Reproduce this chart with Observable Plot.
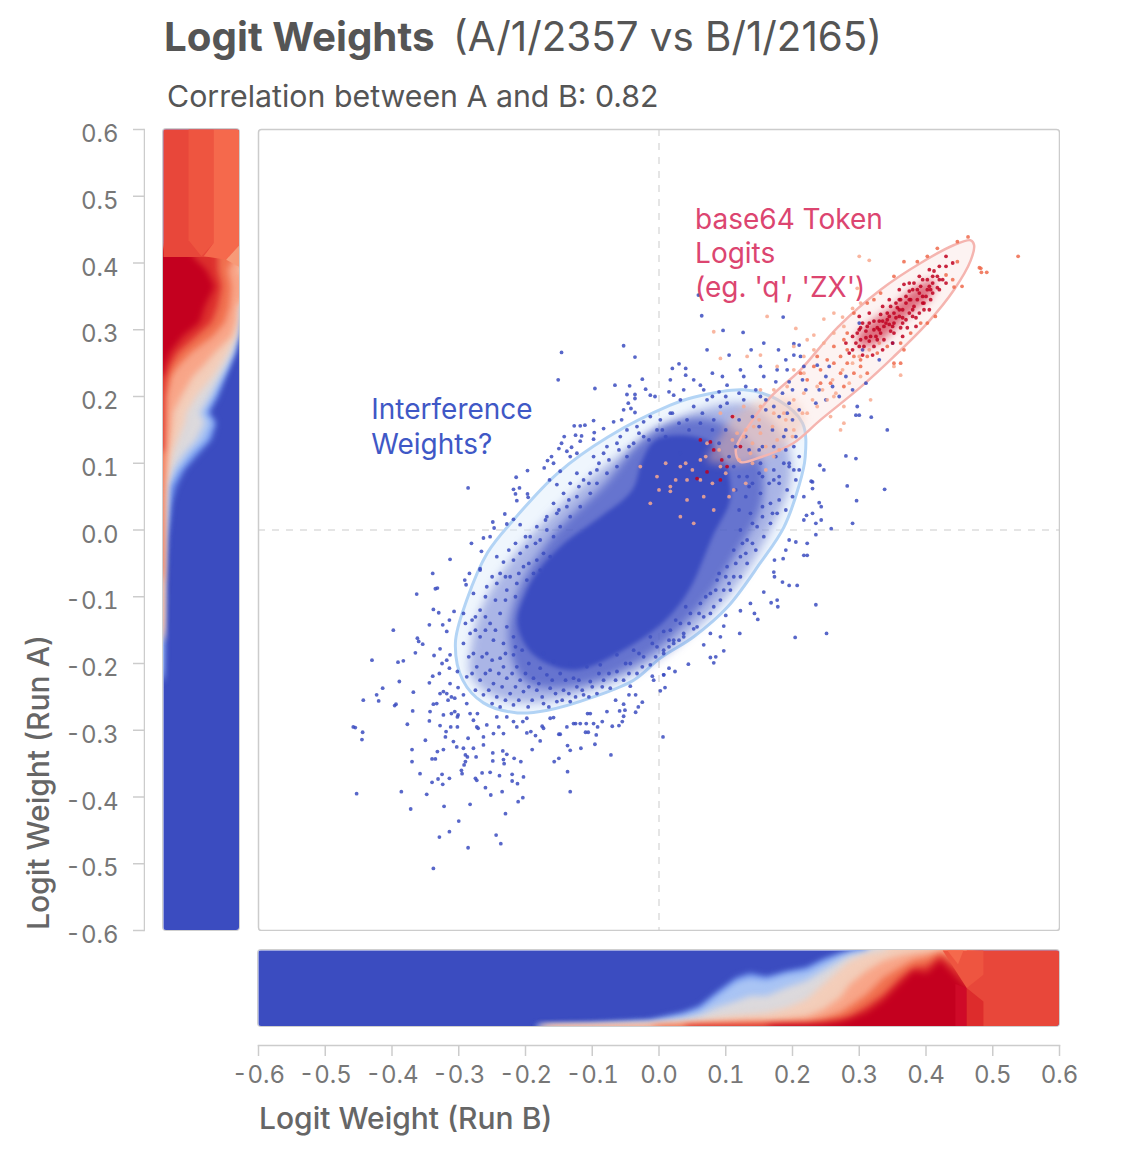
<!DOCTYPE html>
<html><head><meta charset="utf-8">
<script src="https://cdn.jsdelivr.net/npm/d3@7"></script>
<script src="https://cdn.jsdelivr.net/npm/@observablehq/plot@0.6"></script>
<style>
html,body{margin:0;background:#fff;font-family:Inter,sans-serif}
#page{position:relative;width:1124px;height:1154px;overflow:hidden}
.abs{position:absolute;white-space:nowrap}
.abs svg{display:block;max-width:none;overflow:hidden}
</style></head><body><div id="page"></div>
<script>
const ticks=[-.6,-.5,-.4,-.3,-.2,-.1,0,.1,.2,.3,.4,.5,.6];
const bandColors=["#c4001f","#dc2f2d","#f0704f","#f8a588","#f3cdb9","#dcd9dc","#a9c4f4","#6f94ee"];
const stripBlue="#3b4cc0";
// left strip: Run A logit weight, then cumulative share at each colour boundary
const leftV=[.42,.409,.389,.364,.335,.31,.29,.265,.245,.23,.2,.175,.16,.135,.115,.09,.065,.04,-.015,-.08,-.169,-.229];
const leftB=[[.39,.72,.95,1,1,1,1,1],[.39,.72,.95,1,1,1,1,1],[.57,.72,.855,.985,1,1,1,1],[.68,.77,.9,1,1,1,1,1],[.55,.72,.877,.974,.99,.995,1,1],[.48,.636,.81,.956,.982,.99,.995,1],[.26,.44,.66,.9,.956,.974,.982,.987],[.09,.2,.37,.68,.855,.912,.93,.943],[.02,.09,.2,.526,.746,.825,.86,.877],[0,.044,.11,.395,.658,.754,.798,.825],[0,.013,.044,.24,.44,.614,.68,.724],[0,.009,.035,.13,.307,.48,.56,.605],[0,.009,.03,.123,.285,.548,.658,.7],[0,.005,.022,.096,.197,.44,.57,.636],[0,0,.018,.066,.13,.285,.395,.48],[0,0,.013,.044,.079,.132,.219,.285],[0,0,.009,.022,.035,.053,.088,.175],[0,0,.004,.013,.022,.044,.079,.11],[0,0,.004,.009,.013,.018,.035,.053],[0,0,0,.004,.006,.008,.012,.02],[0,0,0,0,0,0,.004,.013],[0,0,0,0,0,0,0,0]];
const leftBlocks=[
 {fill:"#e8473a",pts:[[0,.6],[1,.6],[1,.409],[0,.409]]},
 {fill:"#ee5540",pts:[[.33,.6],[.66,.6],[.66,.43],[.5,.41],[.33,.434]]},
 {fill:"#f5694c",pts:[[.66,.6],[1,.6],[1,.427],[.83,.405],[.53,.41],[.66,.43]]},
 {fill:"#f79a78",pts:[[.825,.405],[1,.427],[1,.394]]}];
// bottom strip: Run B logit weight, then cumulative share at each colour boundary
const bottomV=[-.183,-.1,-.013,.037,.062,.087,.117,.137,.162,.192,.222,.247,.272,.287,.312,.337,.362,.382,.402,.422,.442,.461,.47];
const bottomB=[[0,0,0,0,0,0,0,.005],[0,0,0,.003,.005,.01,.015,.03],[0,0,0,.013,.022,.035,.057,.075],[0,0,.013,.031,.053,.088,.145,.176],[0,.009,.022,.04,.075,.145,.22,.264],[0,.013,.026,.048,.119,.242,.396,.441],[0,.018,.031,.066,.145,.33,.586,.639],[0,.018,.035,.075,.154,.396,.639,.696],[0,.022,.035,.075,.176,.396,.604,.648],[.009,.026,.044,.101,.24,.507,.683,.718],[.013,.031,.057,.132,.352,.595,.727,.771],[.022,.053,.101,.22,.551,.727,.837,.881],[.053,.088,.176,.374,.75,.859,.93,.956],[.088,.132,.264,.551,.859,.925,.974,.982],[.176,.264,.419,.727,.947,.974,.991,1],[.331,.419,.639,.859,.987,1,1,1],[.551,.639,.771,.925,1,1,1,1],[.72,.771,.868,.956,1,1,1,1],[.692,.79,.903,.978,1,1,1,1],[.855,.925,.969,.991,1,1,1,1],[.68,.8,.93,1,1,1,1,1],[.507,.7,.9,1,1,1,1,1],[.507,.7,.9,1,1,1,1,1]];
const bottomBlocks=[
 {fill:"#e8473a",pts:[[.461,1],[.6,1],[.6,0],[.461,0]]},
 {fill:"#ee5540",pts:[[.425,1],[.461,.507],[.486,.68],[.486,1]]},
 {fill:"#f5694c",pts:[[.432,1],[.448,.82],[.456,1]]},
 {fill:"#cf0a28",pts:[[.444,.56],[.461,.507],[.461,0],[.444,0]]},
 {fill:"#dd2c2c",pts:[[.461,.507],[.486,.33],[.486,0],[.461,0]]}];
// outlines
const blueEllipse=[[.002,-.192],[.052,-.16],[.103,-.115],[.152,-.049],[.187,.004],[.209,.064],[.219,.109],[.215,.16],[.178,.195],[.127,.21],[.052,.199],[.017,.187],[-.077,.139],[-.152,.085],[-.218,.015],[-.257,-.034],[-.288,-.105],[-.305,-.169],[-.294,-.225],[-.263,-.259],[-.212,-.274],[-.167,-.27],[-.098,-.25],[-.038,-.225]];
const redEllipse=[[.472,.427],[.467,.434],[.442,.427],[.392,.4],[.332,.36],[.268,.304],[.212,.24],[.167,.199],[.133,.154],[.115,.12],[.122,.102],[.152,.109],[.201,.13],[.242,.165],[.302,.214],[.351,.259],[.402,.31],[.442,.36],[.467,.404]];
const densityOuter=[[-.282,-.18],[-.267,-.12],[-.222,-.045],[-.163,.022],[-.088,.09],[-.013,.142],[.062,.18],[.137,.187],[.189,.135],[.197,.075],[.167,0],[.122,-.075],[.062,-.142],[-.013,-.202],[-.103,-.24],[-.192,-.259],[-.252,-.247],[-.282,-.217]];
const densityMiddle=[[-.225,-.165],[-.21,-.09],[-.158,-.007],[-.083,.067],[-.008,.15],[.077,.165],[.145,.12],[.155,.045],[.11,-.045],[.057,-.12],[-.03,-.197],[-.133,-.235],[-.2,-.227]];
const densityCore=[[-.005,.135],[.052,.14],[.09,.12],[.107,.05],[.08,-.01],[.045,-.09],[.01,-.135],[-.05,-.178],[-.128,-.21],[-.188,-.187],[-.212,-.14],[-.2,-.095],[-.18,-.06],[-.14,-.018],[-.09,.018],[-.04,.06],[-.025,.105]];
const overlapPatch=[[.092,.14],[.112,.17],[.152,.195],[.202,.195],[.217,.16],[.177,.12],[.122,.1],[.072,.105]];
const redBlob=[[.297,.29],[.322,.315],[.352,.335],[.382,.362],[.412,.375],[.407,.35],[.377,.325],[.352,.3],[.327,.28],[.302,.275]];
// individual points, as x,y pairs
const blueLower=[-.338,-.119,-.33,-.124,-.307,-.122,-.344,-.142,-.324,-.142,-.314,-.135,-.398,-.15,-.318,-.152,-.362,-.162,-.36,-.167,-.354,-.171,-.365,-.184,-.43,-.195,-.391,-.198,-.383,-.196,-.337,-.188,-.328,-.178,-.313,-.187,-.318,-.195,-.325,-.2,-.329,-.215,-.314,-.207,-.302,-.212,-.339,-.219,-.389,-.227,-.344,-.229,-.313,-.23,-.414,-.237,-.368,-.243,-.423,-.247,-.443,-.255,-.42,-.256,-.394,-.261,-.396,-.263,-.323,-.242,-.318,-.245,-.328,-.245,-.311,-.25,-.306,-.252,-.316,-.255,-.301,-.236,-.369,-.271,-.333,-.26,-.338,-.261,-.288,-.26,-.293,-.247,-.343,-.272,-.344,-.286,-.323,-.277,-.311,-.275,-.306,-.272,-.301,-.277,-.283,-.275,-.272,-.275,-.458,-.295,-.455,-.296,-.444,-.303,-.445,-.314,-.377,-.291,-.328,-.293,-.312,-.295,-.302,-.295,-.319,-.302,-.32,-.31,-.35,-.315,-.308,-.317,-.286,-.312,-.303,-.325,-.293,-.327,-.278,-.327,-.263,-.322,-.37,-.329,-.332,-.332,-.323,-.329,-.29,-.337,-.287,-.34,-.274,-.34,-.249,-.334,-.234,-.331,-.228,-.336,-.34,-.343,-.335,-.343,-.37,-.347,-.29,-.347,-.292,-.352,-.249,-.346,-.233,-.344,-.217,-.342,-.207,-.347,-.232,-.35,-.358,-.365,-.296,-.36,-.295,-.365,-.265,-.364,-.253,-.363,-.239,-.368,-.22,-.366,-.203,-.37,-.325,-.366,-.331,-.373,-.34,-.378,-.324,-.381,-.314,-.372,-.275,-.372,-.273,-.375,-.22,-.376,-.212,-.38,-.26,-.386,-.453,-.395,-.386,-.392,-.348,-.396,-.252,-.397,-.235,-.392,-.204,-.401,-.211,-.407,-.283,-.411,-.322,-.414,-.372,-.418,-.23,-.425,-.3,-.436,-.314,-.452,-.329,-.46,-.244,-.457,-.237,-.47,-.286,-.476,-.338,-.507];
const blueUnder=[-.133,-.392,-.137,-.362,-.157,-.347,-.15,-.342,-.072,-.337,-.133,-.33,-.137,-.323,-.117,-.327,-.096,-.321,-.094,-.307,-.11,-.303,-.106,-.303,.006,-.31,-.19,-.329,-.178,-.316,-.185,-.308,-.192,-.302,-.198,-.304,-.175,-.294,-.15,-.306,-.148,-.306,-.173,-.297,-.158,-.281,-.163,-.282,-.125,-.29,-.118,-.29,-.109,-.29,-.098,-.29,-.092,-.295,-.085,-.287,-.07,-.294,-.06,-.293,-.055,-.287,-.053,-.279,-.051,-.27,-.035,-.273,-.031,-.265,-.025,-.258,-.053,-.261,-.045,-.247,-.035,-.247,-.043,-.234,-.065,-.255,.002,-.241,.009,-.236,-.01,-.219,.015,-.207,.007,-.217,-.008,-.225,-.107,-.275,-.103,-.275,-.078,-.272,-.059,-.271,-.128,-.29,-.138,-.295,-.198,-.282,-.213,-.295,-.204,-.287,-.233,-.305,-.248,-.305,-.263,-.31,-.273,-.295,-.271,-.297,-.258,-.292,-.24,-.295,-.278,-.285,-.302,-.28,-.243,-.28,-.228,-.28,-.218,-.287];
const blueUpper=[-.146,.266,-.053,.276,-.036,.259,-.151,.225,-.096,.212,-.066,.217,-.044,.216,-.025,.226,-.02,.211,-.048,.203,-.036,.203,-.036,.197,-.013,.202,-.006,.2,-.046,.19,-.053,.18,-.042,.182,-.036,.176,-.098,.164,-.111,.157,-.127,.156,-.118,.156,-.083,.152,-.068,.162,-.056,.165,-.097,.146,-.125,.142,-.116,.141,-.142,.14,-.098,.136,-.118,.133,-.146,.13,-.131,.124,-.15,.122,-.138,.118,-.123,.115,-.161,.11,-.167,.104,-.158,.1,-.172,.093,-.133,.11,-.148,.088,-.197,.089,-.214,.079,-.164,.075,-.153,.068,-.218,.061,-.209,.063,-.286,.063,-.215,.054,-.197,.054,-.196,.049,-.213,.044,-.231,.024,-.249,.012,-.218,.016,-.228,.009,-.208,.008,-.247,.003,-.263,-.012,-.253,-.01,-.281,-.02,-.266,-.032,-.313,-.044,-.339,-.065,-.284,-.065,-.335,-.088,-.332,-.087,-.363,-.096,-.291,-.075,-.289,-.082,-.268,-.058];
const blueRingLow=[-.293,-.125,-.28,-.135,-.268,-.12,-.253,-.14,-.238,-.125,-.228,-.145,-.283,-.155,-.268,-.16,-.248,-.165,-.233,-.17,-.218,-.16,-.293,-.17,-.278,-.185,-.258,-.185,-.238,-.192,-.218,-.187,-.205,-.18,-.273,-.205,-.253,-.21,-.233,-.205,-.213,-.205,-.195,-.2,-.178,-.207,-.288,-.22,-.268,-.225,-.248,-.23,-.228,-.222,-.208,-.225,-.188,-.222,-.168,-.217,-.148,-.215,-.128,-.222,-.263,-.247,-.243,-.25,-.223,-.245,-.203,-.242,-.183,-.24,-.163,-.237,-.143,-.24,-.123,-.235,-.103,-.227,-.083,-.225,-.063,-.212,-.043,-.2,-.023,-.19,-.003,-.175,-.238,-.265,-.218,-.262,-.196,-.265,-.173,-.26,-.153,-.257,-.133,-.257,-.113,-.247,-.093,-.245,-.073,-.237,-.053,-.225,-.033,-.215,-.013,-.202,.007,-.185,-.063,-.187,-.038,-.18,-.013,-.16,.007,-.152,-.088,-.202,-.108,-.205,-.133,-.2,-.158,-.197,-.173,-.185];
const blueRingHigh=[-.268,-.06,-.243,-.04,-.233,-.048,-.238,-.065,-.218,-.045,-.208,-.035,-.198,-.025,-.215,-.02,-.193,-.01,-.178,-.015,-.183,.005,-.168,0,-.168,.02,-.153,.025,-.158,.04,-.138,.035,-.143,.055,-.123,.05,-.133,.07,-.113,.075,-.123,.085,-.103,.085,-.093,.09,-.098,.11,-.083,.115,-.078,.125,-.063,.13,-.058,.14,-.048,.15,-.033,.155,-.023,.162,-.038,.13,-.023,.14,-.003,.15,-.013,.17,.002,.165,-.048,.11,-.063,.095,-.078,.085,-.093,.07,-.103,.055,-.118,.035,-.133,.02,-.148,.005,-.158,-.01,-.173,-.035,-.183,-.045,-.203,-.055,-.223,-.07,-.243,-.08,-.258,-.085,-.278,-.095,-.228,-.09,-.213,-.08,-.198,-.075,-.188,-.065,-.163,-.04,-.178,-.06];
const blueRingRight=[.192,.06,.177,.025,.167,.01,.157,-.01,.145,-.03,.132,-.05,.122,-.07,.107,-.09,.092,-.105,.077,-.125,.057,-.145,.037,-.16,.022,-.17,.007,-.18,.172,.075,.152,.055,.167,.04,.137,.025,.147,.005,.122,0,.132,-.015,.112,-.03,.122,-.04,.102,-.055,.112,-.07,.087,-.075,.097,-.09,.077,-.095,.082,-.115,.062,-.11,.067,-.13,.047,-.125,.052,-.148,.032,-.14,.037,-.155,.017,-.15,.022,-.165,.032,.195,.052,.185,.072,.195,.092,.185,.017,.175,.042,.165,.062,.16,.082,.165,.102,.19,.127,.195,.152,.2,.172,.185,.192,.175,.187,.14,.202,.125,.172,.125,.152,.1,.187,.1,.202,.09,.172,.09,.132,.08,.112,.095,.097,.07,.067,.085,.032,.115];
const blueOutRight=[.059,.352,.064,.321,.096,.299,.126,.296,.186,.319,.105,.262,.138,.27,.072,.27,.157,.28,.202,.279,.21,.277,.202,.262,.212,.26,.179,.27,.19,.255,.03,.249,.02,.242,.04,.242,.04,.232,.017,.225,.052,.225,.062,.217,.08,.235,.095,.23,.122,.24,.127,.23,.102,.217,.13,.215,.152,.245,.177,.24,.157,.23,.175,.222,.192,.24,.217,.245,.237,.247,.195,.222,.25,.23,.015,.207,.022,.202,.037,.21,.067,.21,.09,.207,.28,.111,.295,.107,.282,.066,.296,.044,.228,.073,.23,.062,.217,.05,.24,.041,.243,.035,.221,.022,.23,.025,.243,.015,.235,.01,.217,.015,.258,.002,.29,.01,.235,-.007,.222,-.02,.205,-.018,.195,-.015,.19,-.03,.173,-.045,.186,-.043,.217,-.038,.222,-.038,.185,-.078,.195,-.083,.207,-.083,.172,-.063,.173,-.07,.157,-.093,.137,-.11,.177,-.105,.168,-.109,.178,-.115,.235,-.112,.143,-.125,.122,-.121,.148,-.134,.1,-.128,.097,-.144,.121,-.155,.204,-.161,.251,-.155,.077,-.155,.092,-.16,.067,-.172,.097,-.181,.077,-.191,.085,-.19,.082,-.199,.044,-.201,.024,-.212,.007,-.217,.342,.15,.338,.061,.297,.185,.295,.172,.3,.172,.318,.169,.241,.097,.247,.09,.23,.072];
const blueOverlap=[.1,.15,.12,.165,.14,.17,.16,.18,.18,.17,.2,.165,.19,.15,.17,.15,.15,.155,.13,.14,.115,.125,.135,.12,.155,.125,.175,.11,.19,.12,.205,.14,.21,.11,.195,.095,.18,.08,.165,.07,.15,.085,.135,.065,.12,.08,.105,.11,.09,.13,.08,.15,.065,.175,.045,.15,.03,.16,.01,.14,.16,.195,.185,.205,.145,.21,.12,.205,.1,.2,.08,.2,.195,.19,.21,.18,.2,.21,.22,.21,.215,.225,.24,.21,.25,.195,.235,.19,.26,.215,.28,.23,.255,.245,.27,.2,.29,.21,.31,.22,.33,.255,.35,.28,.305,.27,.3,.31];
const blueRingMore=[-.29,-.14,-.275,-.15,-.26,-.15,-.245,-.15,-.285,-.19,-.265,-.19,-.25,-.195,-.23,-.185,-.215,-.175,-.28,-.215,-.26,-.215,-.24,-.215,-.22,-.215,-.2,-.215,-.18,-.23,-.16,-.225,-.14,-.225,-.12,-.225,-.1,-.235,-.275,-.24,-.255,-.24,-.235,-.235,-.215,-.235,-.195,-.235,-.175,-.25,-.155,-.245,-.135,-.245,-.115,-.24,-.25,-.26,-.23,-.255,-.21,-.255,-.19,-.255,-.165,-.265,-.145,-.255,-.125,-.25,-.105,-.25,-.085,-.235,-.065,-.225,-.045,-.215,-.025,-.205,-.005,-.19,.015,-.175,.03,-.165,-.075,-.215,-.05,-.2,-.03,-.185,-.01,-.17,-.09,-.215,-.275,-.13,-.26,-.13,-.245,-.105,-.26,-.1,-.23,-.105,-.215,-.1,-.25,-.07,-.23,-.07,-.21,-.065,-.195,-.05,-.225,-.03,-.2,-.01,-.185,-.02,-.17,.015,-.15,.03,-.135,.045,-.12,.065,-.105,.07,-.09,.1,-.075,.105,-.06,.12,-.045,.125,-.03,.145,-.015,.135,.005,.15,.02,.175,.14,-.02,.155,.02,.17,.025,.18,.045,.19,.03,.2,.05,.205,.075,.155,.035,.14,.01,.125,-.02,.13,-.035,.115,-.05,.1,-.07,.105,-.08,.09,-.065,.085,-.09,.07,-.1,.06,-.125,.045,-.14,.025,-.135,.015,-.165,.04,-.115,.12,.03,.13,.05,.115,.06,.14,.07,.155,.08,.18,.07,.195,.1,.21,.09,.15,.12];
const salmonPts=[.3,.41,.315,.404,.297,.362,.162,.32,.205,.302,.247,.316,.262,.325,.275,.319,.29,.332,.302,.34,.232,.292,.222,.285,.202,.275,.247,.28,.262,.295,.277,.305,.217,.26,.232,.27,.152,.262,.132,.26,.092,.257,.082,.297,.177,.245,.202,.24,.217,.235,.237,.215,.252,.195,.262,.2,.277,.185,.302,.23,.317,.195,.362,.232,.352,.245,.272,.15,.277,.16,.257,.17,.202,.195,.187,.175,.172,.175,.152,.185,.142,.155,.112,.17,.127,.14,.152,.145,.177,.135,.202,.15,.222,.175,.237,.185,.217,.205,.192,.215,.172,.21,.152,.21,.127,.185,.117,.145,.137,.115,.172,.11,.092,.175,.072,.13,.062,.105,.042,.075,.032,.095,.017,.065,.017,.058,.042,.045,.092,.095,.112,.06,.067,.05,.032,.02,-.013,.04,-.003,.08,.062,.075,.082,.03,.052,.01,-.028,.095,.01,.1,.05,.09,.07,.11,.09,.12,.11,.135,.13,.15,.15,.165,.17,.155,.19,.165,.14,.13,.16,.125,.12,.105,.14,.1,.1,.085,.08,.07,.04,.1,.025,.075,0,.06,.105,.05,.13,.07,.16,.09,.18,.12,.2,.14,.215,.175,.23,.195,.245,.21,.26,.225,.275,.24,.29,.25,.265,.205,.285,.22,.3,.26,.315,.27,.33,.28];
const orangePts=[.272,.26,.282,.27,.292,.26,.302,.255,.312,.26,.327,.265,.342,.275,.362,.28,.367,.27,.377,.295,.392,.31,.402,.31,.414,.32,.352,.25,.362,.25,.302,.245,.282,.25,.262,.25,.252,.255,.242,.24,.232,.245,.272,.235,.292,.235,.312,.235,.257,.22,.277,.215,.242,.22,.222,.225,.212,.235,.237,.26,.262,.275,.277,.285,.282,.295,.292,.325,.312,.34,.322,.345,.332,.355,.352,.38,.367,.402,.387,.402,.402,.41,.417,.422,.447,.402,.43,.382,.44,.375,.454,.365,.442,.364,.482,.392,.463,.439,.447,.432,.491,.386,.483,.386,.48,.393,.538,.41];
const darkPts=[.297,.295,.302,.285,.31,.298,.317,.29,.312,.305,.322,.3,.327,.285,.332,.295,.337,.305,.33,.313,.342,.315,.347,.298,.352,.31,.36,.32,.352,.325,.365,.33,.37,.315,.375,.325,.382,.335,.377,.345,.387,.345,.395,.35,.387,.36,.402,.36,.41,.37,.402,.375,.417,.38,.425,.375,.43,.395,.412,.388,.367,.368,.36,.36,.375,.358,.362,.345,.347,.335,.332,.323,.322,.313,.305,.31,.295,.28,.29,.27,.307,.275,.322,.275,.337,.285,.352,.295,.362,.303,.372,.303,.385,.318,.397,.33,.407,.345,.417,.363,.382,.37,.397,.34,.342,.325,.327,.303,.315,.283,.302,.303,.37,.34,.357,.333,.39,.325,.38,.33,.365,.318,.355,.318,.345,.308,.335,.313,.325,.29,.31,.288,.3,.275,.392,.365,.4,.35,.407,.36,.077,.132,.082,.12,.094,.105,.072,.087,.057,.077,.11,.17,.062,.135,.102,.095,.092,.075,.122,.125,.29,.29,.3,.32,.315,.325,.335,.335,.345,.345,.36,.345,.375,.37,.39,.38,.405,.39,.42,.395,.43,.41,.44,.4,.42,.36,.43,.37,.405,.33,.385,.305,.365,.29,.35,.28,.335,.27,.32,.262,.305,.262,.285,.265,.28,.28,.3,.3,.315,.31,.33,.3,.345,.32,.36,.33,.375,.345,.39,.355,.405,.365,.38,.36,.37,.35,.355,.34,.34,.31,.35,.305,.365,.31,.38,.32,.395,.34,.41,.355,.42,.375,.395,.375,.41,.38];
const annotations=[
 {x:.054,y:.465,text:"base64 Token",color:"#dc4570"},
 {x:.054,y:.414,text:"Logits",color:"#dc4570"},
 {x:.054,y:.363,text:"(eg. 'q', 'ZX')",color:"#dc4570"},
 {x:-.431,y:.179,text:"Interference",color:"#3f58c6"},
 {x:-.431,y:.128,text:"Weights?",color:"#3f58c6"}];

const page=document.getElementById("page");
function place(node,left,top,css=""){const d=document.createElement("div");d.className="abs";d.style.cssText=`left:${left}px;top:${top}px;`+css;d.append(node);page.append(d);return d;}
function label(t,left,top,css){const s=document.createElement("span");s.textContent=t;place(s,left,top,css);}
const toPts=a=>d3.range(0,a.length,2).map(i=>[a[i],a[i+1]]);
const xv=d=>d[0],yv=d=>d[1];
const poly=(pts,fill,o={})=>Plot.line(pts,{x:xv,y:yv,fill,stroke:"none",curve:"linear-closed",...o});
const dots=(a,fill,o={})=>Plot.dot(toPts(a),{x:xv,y:yv,r:1.9,fill,fillOpacity:.85,stroke:"none",...o});
const blur={imageFilter:"blur(3px)",clip:"frame"};

label("Logit Weights",164,13,"font:700 40.3px/48px Inter;color:#555");
label("(A/1/2357 vs B/1/2165)",453,13,"font:400 40.3px/48px Inter;color:#555");
label("Correlation between A and B: 0.82",167,78,"font:400 30.3px/36px Inter;color:#555");
label("Logit Weight (Run A)",20,930,"font:500 30px/36px Inter;color:#666;transform-origin:0 0;transform:rotate(-90deg)");
label("Logit Weight (Run B)",259,1100,"font:500 30px/36px Inter;color:#666");

// left axis
place(Plot.plot({width:145,height:860,marginLeft:133,marginRight:1,marginTop:29,marginBottom:30,
  style:{fontFamily:"Inter",fontSize:"24px",background:"transparent"},
  x:{axis:null},y:{domain:[-.6,.6],axis:null},
  marks:[
   Plot.tickY(ticks,{y:d=>d,stroke:"#ccc",strokeWidth:1.5}),
   Plot.frame({anchor:"right",stroke:"#ccc",strokeWidth:1.5}),
   Plot.axisY(ticks,{anchor:"left",tickSize:0,tickPadding:15,dy:5,fill:"#777",label:null,tickFormat:d=>d.toFixed(1)})
  ]}),0,100);

// left strip
const leftRows=leftV.map((v,i)=>({v,b:leftB[i]}));
place(Plot.plot({width:76,height:801,margin:0,
  x:{domain:[0,1],axis:null},y:{domain:[-.6,.6],axis:null},
  marks:[
   Plot.frame({fill:stripBlue,stroke:"none"}),
   ...d3.range(7,-1,-1).map(i=>Plot.areaX(leftRows,{y:"v",x1:d=>d.b[i]>0?-.2:0,x2:d=>d.b[i]>=1?1.2:d.b[i],fill:bandColors[i],...blur})),
   ...leftBlocks.map(b=>poly(b.pts,b.fill))
  ]}),163,129,"border-radius:3px;overflow:hidden;box-shadow:0 0 0 1px #cfcfcf");

// main scatter
place(Plot.plot({width:803,height:803,marginLeft:1,marginRight:1,marginTop:1,marginBottom:1,
  style:{fontFamily:"Inter",background:"transparent"},
  x:{domain:[-.6,.6],axis:null},y:{domain:[-.6,.6],axis:null},
  marks:[
   Plot.ruleX([0],{stroke:"#ddd",strokeWidth:1.5,strokeDasharray:"7,7"}),
   Plot.ruleY([0],{stroke:"#ddd",strokeWidth:1.5,strokeDasharray:"7,7"}),
   Plot.line(blueEllipse,{x:xv,y:yv,fill:"#dbeafb",fillOpacity:.45,stroke:"#b3d4f5",strokeWidth:3,curve:"catmull-rom-closed"}),
   poly(densityOuter,stripBlue,{fillOpacity:.38,curve:"catmull-rom-closed",imageFilter:"blur(5px)"}),
   poly(densityMiddle,stripBlue,{fillOpacity:.62,curve:"catmull-rom-closed",imageFilter:"blur(4px)"}),
   poly(densityCore,stripBlue,{curve:"catmull-rom-closed",imageFilter:"blur(2px)"}),
   poly(overlapPatch,"#f6bda2",{fillOpacity:.45,curve:"catmull-rom-closed",imageFilter:"blur(4px)"}),
   Plot.line(redEllipse,{x:xv,y:yv,fill:"#f9d5d0",fillOpacity:.28,stroke:"#f5b5b0",strokeWidth:2.5,curve:"catmull-rom-closed"}),
   dots(blueLower,stripBlue),dots(blueUnder,stripBlue),dots(blueUpper,stripBlue),
   dots(blueRingLow,stripBlue),dots(blueRingHigh,stripBlue),dots(blueRingRight,stripBlue),dots(blueOutRight,stripBlue),
   dots(blueOverlap,stripBlue),dots(blueRingMore,stripBlue),
   dots(salmonPts,"#f8a98f"),dots(orangePts,"#ef6a4c"),
   poly(redBlob,"#c4001f",{fillOpacity:.55,curve:"catmull-rom-closed",imageFilter:"blur(4px)"}),
   dots(darkPts,"#c00020"),
   Plot.text(annotations,{x:"x",y:"y",text:"text",fill:"color",textAnchor:"start",fontSize:28}),
   Plot.frame({stroke:"#ccc",strokeWidth:1.5,rx:3})
  ]}),257,128);

// bottom strip
const bottomRows=bottomV.map((v,i)=>({v,b:bottomB[i]}));
place(Plot.plot({width:801,height:76,margin:0,
  x:{domain:[-.6,.6],axis:null},y:{domain:[0,1],axis:null},
  marks:[
   Plot.frame({fill:stripBlue,stroke:"none"}),
   ...d3.range(7,-1,-1).map(i=>Plot.areaY(bottomRows,{x:"v",y1:d=>d.b[i]>0?-.2:0,y2:d=>d.b[i]>=1?1.2:d.b[i],fill:bandColors[i],...blur})),
   ...bottomBlocks.map(b=>poly(b.pts,b.fill))
  ]}),258,949.5,"border-radius:3px;overflow:hidden;box-shadow:0 0 0 1px #cfcfcf");

// bottom axis
place(Plot.plot({width:1124,height:80,marginLeft:258,marginRight:65,marginTop:5,marginBottom:64,
  style:{fontFamily:"Inter",fontSize:"24px",background:"transparent"},
  x:{domain:[-.6,.6],axis:null},y:{axis:null},
  marks:[
   Plot.tickX(ticks,{x:d=>d,stroke:"#ccc",strokeWidth:1.5}),
   Plot.frame({anchor:"top",stroke:"#ccc",strokeWidth:1.5}),
   Plot.axisX(ticks,{anchor:"bottom",tickSize:0,tickPadding:9,fill:"#777",label:null,tickFormat:d=>d.toFixed(1)})
  ]}),0,1040);
</script></body></html>
